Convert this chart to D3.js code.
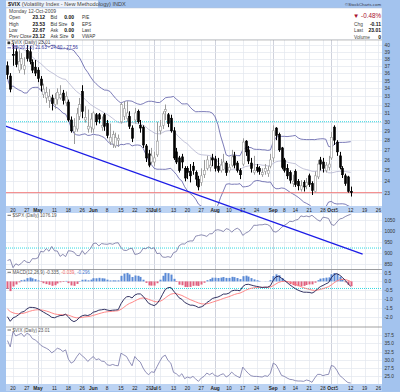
<!DOCTYPE html>
<html><head><meta charset="utf-8">
<script src="https://cdn.jsdelivr.net/npm/d3@7"></script>
<style>body{margin:0;background:#fff}svg{display:block}text{font-family:"Liberation Sans",Arial,sans-serif}</style>
</head><body><svg id="c" width="400" height="392"></svg>
<script>
// ---------- DATA ----------
const dates = [
"2009-04-16","2009-04-17","2009-04-20","2009-04-21","2009-04-22","2009-04-23","2009-04-24","2009-04-27","2009-04-28","2009-04-29","2009-04-30",
"2009-05-01","2009-05-04","2009-05-05","2009-05-06","2009-05-07","2009-05-08","2009-05-11","2009-05-12","2009-05-13","2009-05-14","2009-05-15","2009-05-18","2009-05-19","2009-05-20","2009-05-21","2009-05-22","2009-05-26","2009-05-27","2009-05-28","2009-05-29",
"2009-06-01","2009-06-02","2009-06-03","2009-06-04","2009-06-05","2009-06-08","2009-06-09","2009-06-10","2009-06-11","2009-06-12","2009-06-15","2009-06-16","2009-06-17","2009-06-18","2009-06-19","2009-06-22","2009-06-23","2009-06-24","2009-06-25","2009-06-26","2009-06-29","2009-06-30",
"2009-07-01","2009-07-02","2009-07-06","2009-07-07","2009-07-08","2009-07-09","2009-07-10","2009-07-13","2009-07-14","2009-07-15","2009-07-16","2009-07-17","2009-07-20","2009-07-21","2009-07-22","2009-07-23","2009-07-24","2009-07-27","2009-07-28","2009-07-29","2009-07-30","2009-07-31",
"2009-08-03","2009-08-04","2009-08-05","2009-08-06","2009-08-07","2009-08-10","2009-08-11","2009-08-12","2009-08-13","2009-08-14","2009-08-17","2009-08-18","2009-08-19","2009-08-20","2009-08-21","2009-08-24","2009-08-25","2009-08-26","2009-08-27","2009-08-28","2009-08-31",
"2009-09-01","2009-09-02","2009-09-03","2009-09-04","2009-09-08","2009-09-09","2009-09-10","2009-09-11","2009-09-14","2009-09-15","2009-09-16","2009-09-17","2009-09-18","2009-09-21","2009-09-22","2009-09-23","2009-09-24","2009-09-25","2009-09-28","2009-09-29","2009-09-30",
"2009-10-01","2009-10-02","2009-10-05","2009-10-06","2009-10-07","2009-10-08","2009-10-09","2009-10-12"];
const futureDates = ["2009-10-13","2009-10-14","2009-10-15","2009-10-16","2009-10-19","2009-10-20","2009-10-21","2009-10-22","2009-10-23","2009-10-26","2009-10-27"];

const open = [37.0,35.6,38.6,39.0,36.4,37.2,36.5,39.2,39.0,37.5,36.8,
36.4,35.2,33.2,32.8,32.5,32.8,32.0,32.6,32.8,33.4,32.2,32.3,30.2,28.9,29.2,30.6,33.6,30.2,29.2,29.4,
29.2,30.8,30.8,29.4,30.8,29.8,27.8,27.6,27.4,28.0,30.0,30.6,30.4,30.6,29.3,30.2,31.2,29.6,29.4,27.4,26.6,25.8,
25.8,26.5,29.0,29.6,31.2,30.8,30.4,29.0,26.8,26.2,26.3,25.2,25.2,24.9,25.4,24.8,24.2,23.9,24.6,25.2,25.3,26.2,
26.1,25.4,25.0,25.1,25.7,25.0,25.5,26.4,25.7,25.0,25.6,27.9,27.0,25.7,24.8,25.3,25.2,24.6,24.9,24.7,25.4,
26.2,29.3,28.6,27.2,26.0,25.2,24.8,23.8,24.9,24.0,23.3,23.9,23.6,24.5,23.8,23.1,24.4,26.0,25.8,25.0,25.3,
26.2,29.4,27.8,26.4,25.2,24.5,24.4,23.12];
const high = [37.6,36.0,40.2,39.6,39.2,38.8,38.2,40.0,39.8,37.9,37.8,
36.8,35.6,34.6,34.2,33.9,33.2,33.4,34.0,34.4,33.8,33.6,32.6,30.6,30.4,31.6,32.8,34.4,31.8,31.4,31.0,
31.2,31.0,31.0,30.6,31.0,30.2,29.8,29.0,28.8,28.6,32.2,32.4,32.4,31.2,29.6,31.6,31.4,30.2,29.6,27.6,27.0,27.2,
26.8,30.0,30.2,31.2,32.0,31.0,30.8,29.4,27.2,26.4,26.6,25.4,25.4,25.6,25.8,25.0,24.5,25.2,26.0,26.4,26.3,26.6,
26.4,26.2,26.1,26.6,25.9,25.6,27.0,26.8,25.9,25.2,28.2,28.0,27.4,26.2,26.4,25.6,25.4,25.2,25.6,25.4,26.6,
29.6,29.4,28.8,27.3,26.2,25.6,25.0,24.6,25.1,24.2,24.1,24.1,24.3,24.7,24.0,24.9,26.0,26.3,26.2,25.8,26.4,
28.9,29.6,28.0,26.8,25.4,24.7,24.5,23.53];
const low = [35.2,33.5,37.0,36.8,36.0,36.5,35.8,37.6,37.2,36.0,35.6,
34.8,33.6,32.8,32.2,31.6,31.3,31.5,32.0,32.6,32.0,31.8,30.0,28.8,27.6,28.9,30.2,30.4,29.9,28.8,28.8,
28.8,29.6,29.8,29.0,29.0,28.2,27.5,27.2,27.2,27.3,29.8,30.2,30.0,29.2,27.8,29.8,29.8,28.8,27.2,25.8,25.3,25.6,
25.4,26.3,28.6,29.2,30.2,29.4,28.8,26.0,25.6,24.8,25.2,24.0,24.2,23.9,24.6,23.6,23.2,23.6,24.3,25.0,24.9,25.4,
24.9,24.8,24.8,25.0,24.5,24.8,25.3,25.2,24.8,24.2,25.4,26.4,25.6,24.8,24.6,24.8,24.6,24.4,24.6,24.4,25.2,
25.8,28.0,26.8,25.1,24.8,24.2,23.8,23.5,23.5,23.2,23.1,23.1,23.3,23.5,22.8,23.0,24.2,25.0,24.8,24.8,25.0,
26.0,27.5,26.4,25.1,24.3,23.6,23.0,22.67];
const close = [35.8,33.9,38.5,37.2,37.6,38.0,37.0,38.0,37.6,36.4,36.0,
35.3,34.4,33.9,33.5,33.0,32.1,32.7,33.5,33.2,32.5,33.0,30.2,29.0,29.5,30.9,32.0,31.2,30.5,29.5,30.3,
31.0,30.0,30.3,29.6,29.5,28.5,28.3,28.6,28.3,28.2,32.0,31.5,31.0,29.5,28.2,31.0,30.0,29.3,27.5,26.2,25.5,26.4,
26.2,27.9,29.5,30.9,31.4,29.8,29.0,26.2,25.8,25.0,25.8,24.3,24.8,24.5,25.0,24.2,23.5,24.5,25.0,26.0,25.5,26.0,
25.2,25.0,25.5,25.8,24.8,25.3,26.3,25.5,25.0,24.6,27.8,26.8,25.9,25.2,25.0,25.0,24.9,24.8,25.2,25.0,26.0,
29.0,28.5,27.0,25.3,25.0,24.5,24.1,24.0,23.7,23.6,23.6,23.5,23.9,23.7,23.2,24.5,25.6,25.6,25.2,25.5,25.6,
28.3,28.0,26.8,25.3,24.6,23.8,23.12,23.01];
// closes before the visible window (indicator warm-up)
const priorClose = [45.5,42.9,43.0,41.2,48.7,47.1,46.0,49.3,47.1,44.7,44.7,45.0,46.4,52.6,50.9,46.4,50.2,49.3,49.7,45.0,44.4,44.0,42.4,43.9,41.2,40.4,43.1,45.9,40.4,41.0,41.0,40.6,43.0,45.5,44.1,42.3,42.0,39.7,40.9,40.9,39.0,36.5,37.3,38.9,37.0];
const spxClose = [865.3,869.6,832.4,850.1,843.6,851.9,866.2,857.5,855.2,873.6,872.8,
877.5,907.2,903.8,919.5,907.4,929.2,909.2,908.4,883.9,893.1,882.9,909.7,908.1,903.5,888.3,887.0,910.3,893.1,906.8,919.1,
942.9,944.7,931.8,942.5,940.1,939.1,942.4,939.2,944.9,946.2,923.7,912.0,910.7,918.4,921.2,893.0,895.1,900.9,920.3,918.9,927.2,919.3,
923.3,896.4,898.7,881.0,879.6,882.7,879.1,901.1,905.8,932.7,940.7,940.4,951.1,954.6,954.1,976.3,979.3,982.2,979.6,975.2,986.8,987.5,
1002.6,1005.7,1002.7,997.1,1010.5,1007.1,994.4,1005.8,1012.7,1004.1,979.7,989.7,996.5,1007.4,1026.1,1025.6,1028.0,1028.1,1031.0,1028.9,1020.6,
998.0,994.8,1003.2,1016.4,1025.4,1033.4,1044.1,1042.7,1049.3,1052.6,1068.8,1065.5,1068.3,1064.7,1071.7,1060.9,1050.8,1044.4,1063.0,1060.6,1057.1,
1029.9,1025.2,1040.5,1054.7,1057.6,1065.5,1071.5,1076.2];

const priceTicks = [23,24,25,26,27,28,29,30,31,32,33,34,35,36,37,38,39,40];
const spxTicks = [850,900,950,1000,1050];
const macdTicks = [0.5,0,-0.5,-1,-1.5,-2];
const vixTicks = [25,27.5,30,32.5,35,37.5];
const priceLevelCyan = [30];
const priceLevelRed = [23.0];
const spxLevelCyan = [922];
const macdLevelCyan = [-0.4];
const trendLine = [{day:-2.7, vix:29.74},{day:128.3, vix:18.27}];

const headerRows = [
  ["Open","23.12","Bid","0.00","P/E"],
  ["High","23.53","Bid Size","0","EPS"],
  ["Low","22.67","Ask","0.00","Last"],
  ["Prev Close","23.12","Ask Size","0","VWAP"]];
const quoteRows = [["Chg","-0.11"],["Last","23.01"],["Volume","0"]];
const monthNames = ["Jan","Feb","Mar","Apr","May","Jun","Jul","Aug","Sep","Oct","Nov","Dec"];

// ---------- LAYOUT ----------
const svg = d3.select("#c");
const W=400,H=392,L=6,R=382;
const P = {price:[40,206], spx:[213,269.5], macd:[269.5,327], vixl:[327,384]};
const frame = "#a3c3ee", grid="#e3e6ee", gridM="#c9cdd8", axisTxt="#333";

const x = d3.scaleLinear().domain([-0.54,135.3]).range([L,R]);
const yP = d3.scaleLog().domain([21.88,40.75]).range([P.price[1],P.price[0]]);
const yS = d3.scaleLinear().domain([824,1082]).range([P.spx[1],P.spx[0]]);
const yM = d3.scaleLinear().domain([-2.583,0.674]).range([P.macd[1],P.macd[0]]);
const yV = d3.scaleLinear().domain([22.7,39.9]).range([P.vixl[1],P.vixl[0]]);

// indicators
const allClose = priorClose.concat(close);
const off = priorClose.length;
function ema(arr,n){const k=2/(n+1);const o=[];arr.forEach((v,i)=>o.push(i===0?v:v*k+o[i-1]*(1-k)));return o;}
const e12=ema(allClose,12), e26=ema(allClose,26);
const macdAll=e12.map((v,i)=>v-e26[i]);
const sigAll=ema(macdAll,9);
const macd=macdAll.slice(off), signal=sigAll.slice(off);
const hist=macd.map((v,i)=>v-signal[i]);
const bb=close.map((c,i)=>{const j=i+off;const w=allClose.slice(j-19,j+1);const m=d3.mean(w);const sd=Math.sqrt(d3.mean(w,v=>(v-m)*(v-m)));return {m,up:m+2*sd,lo:m-2*sd};});

// background frame
svg.append("rect").attr("width",W).attr("height",H).attr("fill",frame);
// title
svg.append("rect").attr("x",L).attr("y",0.5).attr("width",92).attr("height",7).attr("fill","#eef2fa");
const tt=svg.append("text").attr("x",8).attr("y",6.3).attr("font-size",5.6).attr("fill","#222");
tt.append("tspan").attr("font-weight","bold").text("$VIX");
tt.append("tspan").attr("fill","#444").text(" (Volatility Index - New Methodology) INDX");
svg.append("text").attr("x",R-1).attr("y",5.8).attr("text-anchor","end").attr("font-size",4.3).attr("fill","#334").text("\u00A9StockCharts.com");

// header box
svg.append("rect").attr("x",L).attr("y",8).attr("width",R-L).attr("height",32).attr("fill","#fff").attr("stroke","#b8c4d8").attr("stroke-width",0.5);
svg.append("text").attr("x",9).attr("y",13).attr("font-size",5).attr("fill","#444").text("Monday 12-Oct-2009");
headerRows.forEach((r,i)=>{
  const yy=19.2+i*6.4;
  const g=svg.append("g").attr("font-size",4.6).attr("fill","#333");
  g.append("text").attr("x",9).attr("y",yy).text(r[0]);
  g.append("text").attr("x",45).attr("y",yy).attr("text-anchor","end").attr("font-weight","bold").attr("font-size",5).attr("fill","#111").text(r[1]);
  g.append("text").attr("x",50.5).attr("y",yy).text(r[2]);
  g.append("text").attr("x",74).attr("y",yy).attr("text-anchor","end").attr("font-weight","bold").attr("font-size",5).attr("fill","#111").text(r[3]);
  g.append("text").attr("x",82).attr("y",yy).text(r[4]);
});
svg.append("text").attr("x",353).attr("y",18.2).attr("font-size",6.3).attr("fill","#a8102e").text("\u25BC");
svg.append("text").attr("x",381).attr("y",18.2).attr("text-anchor","end").attr("font-size",6.3).attr("fill","#a8102e").text("-0.48%");
quoteRows.forEach((r,i)=>{
  const yy=25.8+i*6.5;
  svg.append("text").attr("x",354).attr("y",yy).attr("font-size",4.8).attr("fill","#444").text(r[0]);
  svg.append("text").attr("x",381).attr("y",yy).attr("text-anchor","end").attr("font-size",5).attr("font-weight","bold").attr("fill","#111").text(r[1]);
});

// panels
Object.values(P).forEach(p=>{
  svg.append("rect").attr("x",L).attr("y",p[0]).attr("width",R-L).attr("height",p[1]-p[0]).attr("fill","#fff");
});
// date strips
[[206,213],[384,391]].forEach(s=>svg.append("rect").attr("x",L).attr("y",s[0]).attr("width",R-L).attr("height",s[1]-s[0]).attr("fill","#bcd3f3"));

// time ticks
const allDates = dates.concat(futureDates).map(d=>new Date(d+"T12:00:00"));
const monthIdx=[];
allDates.forEach((d,i)=>{ if(i>0 && d.getMonth()!==allDates[i-1].getMonth()) monthIdx.push(i); });
const ticks=[];
allDates.forEach((d,i)=>{
  if(i===0) return;
  const p=allDates[i-1];
  const monthStart = monthIdx.includes(i);
  const weekStart = d.getDay()<p.getDay() || (d-p)>3*864e5;
  if(monthStart){ticks.push({i,label:monthNames[d.getMonth()],month:true});}
  else if(weekStart){
    const near = monthIdx.some(m=>Math.abs(m-i)<2);
    ticks.push({i,label:near?"":String(d.getDate()),month:false});
  }
});

// vertical grid
Object.values(P).forEach(p=>{
  svg.append("g").selectAll("line").data(ticks).join("line")
    .attr("x1",d=>Math.round(x(d.i))+0.5).attr("x2",d=>Math.round(x(d.i))+0.5)
    .attr("y1",p[0]).attr("y2",p[1])
    .attr("stroke",d=>d.month?gridM:grid).attr("stroke-width",d=>d.month?0.9:0.7);
});
// horizontal grid
function hgrid(scale,vals){
  svg.append("g").selectAll("line").data(vals).join("line")
    .attr("x1",L).attr("x2",R).attr("y1",d=>Math.round(scale(d))+0.5).attr("y2",d=>Math.round(scale(d))+0.5)
    .attr("stroke",grid).attr("stroke-width",0.7);
}
hgrid(yP,priceTicks); hgrid(yS,spxTicks); hgrid(yM,macdTicks); hgrid(yV,vixTicks);

// date labels
[211.6,389.6].forEach(yy=>{
  svg.append("g").selectAll("text").data(ticks.filter(t=>t.label)).join("text")
   .attr("x",d=>x(d.i)).attr("y",yy).attr("text-anchor","middle")
   .attr("font-size",4.8).attr("font-weight",d=>d.month?"bold":"normal").attr("fill","#222").text(d=>d.label);
});

// right axes
function raxis(scale,vals,fmt){
  const g=svg.append("g").attr("transform",`translate(${R},0)`)
    .call(d3.axisRight(scale).tickValues(vals).tickSize(0).tickPadding(2.5).tickFormat(fmt));
  g.select(".domain").remove();
  g.selectAll("text").attr("font-size",4.8).attr("fill",axisTxt).attr("font-family","Liberation Sans, Arial, sans-serif");
}
raxis(yP,priceTicks,d=>String(d));
raxis(yS,spxTicks,d=>String(d));
raxis(yM,macdTicks,d=>d.toFixed(1));
raxis(yV,vixTicks,d=>d.toFixed(1));

// clip paths
const defs=svg.append("defs");
Object.entries(P).forEach(([k,p])=>defs.append("clipPath").attr("id","clip-"+k).append("rect").attr("x",L).attr("y",p[0]).attr("width",R-L).attr("height",p[1]-p[0]));

// ---------- PRICE PANEL ----------
const gp=svg.append("g").attr("clip-path","url(#clip-price)");
gp.append("path").datum(bb).attr("fill","none").attr("stroke","#a9a9c8").attr("stroke-width",0.7)
  .attr("d",d3.line().x((d,i)=>x(i)).y(d=>yP(d.m)));
["up","lo"].forEach(k=>gp.append("path").datum(bb).attr("fill","none").attr("stroke","#5a5aa6").attr("stroke-width",0.8)
  .attr("d",d3.line().x((d,i)=>x(i)).y(d=>yP(d[k]))));
gp.selectAll(".lvc").data(priceLevelCyan).join("line").attr("x1",L).attr("x2",R).attr("y1",d=>yP(d)).attr("y2",d=>yP(d))
  .attr("stroke","#2fd8e0").attr("stroke-width",1).attr("stroke-dasharray","1,1");
gp.selectAll(".lvr").data(priceLevelRed).join("line").attr("x1",L).attr("x2",R).attr("y1",d=>yP(d)).attr("y2",d=>yP(d))
  .attr("stroke","#f27a7a").attr("stroke-width",1);
// candles
const cd=close.map((c,i)=>({i,o:open[i],h:high[i],l:low[i],c}));
gp.append("g").selectAll("line").data(cd).join("line")
  .attr("x1",d=>Math.round(x(d.i))+0.5).attr("x2",d=>Math.round(x(d.i))+0.5)
  .attr("y1",d=>yP(d.h)).attr("y2",d=>yP(d.l))
  .attr("stroke",d=>d.c<d.o?"#000":"#9a9a9a").attr("stroke-width",1);
gp.append("g").selectAll("rect").data(cd).join("rect")
  .attr("x",d=>Math.round(x(d.i))-0.5).attr("width",2)
  .attr("y",d=>yP(Math.max(d.o,d.c))).attr("height",d=>Math.max(0.8,yP(Math.min(d.o,d.c))-yP(Math.max(d.o,d.c))))
  .attr("fill",d=>d.c<d.o?"#000":"#fff").attr("stroke",d=>d.c<d.o?"#000":"#9a9a9a").attr("stroke-width",0.6);
// legends
svg.append("rect").attr("x",7.5).attr("y",41.6).attr("width",2.6).attr("height",2.6).attr("fill","#333");
svg.append("text").attr("x",11.5).attr("y",44.4).attr("font-size",4.8).attr("fill","#444").text("$VIX (Daily) 23.01");
svg.append("line").attr("x1",7.5).attr("x2",11).attr("y1",47.8).attr("y2",47.8).attr("stroke","#33339a").attr("stroke-width",0.8);
svg.append("text").attr("x",12).attr("y",49.3).attr("font-size",4.6).attr("fill","#33339a").text("BB(20,2.0) 21.63 - 24.60 - 27.56");

// ---------- SPX PANEL ----------
const gs=svg.append("g").attr("clip-path","url(#clip-spx)");
gs.selectAll("line").data(spxLevelCyan).join("line").attr("x1",L).attr("x2",R).attr("y1",d=>yS(d)).attr("y2",d=>yS(d))
  .attr("stroke","#2fd8e0").attr("stroke-width",1).attr("stroke-dasharray","1,1");
gs.append("path").datum(spxClose).attr("fill","none").attr("stroke","#6e6e9e").attr("stroke-width",0.8)
  .attr("d",d3.line().x((d,i)=>x(i)).y(d=>yS(d)));
svg.append("line").attr("x1",7.5).attr("x2",11).attr("y1",215.3).attr("y2",215.3).attr("stroke","#444").attr("stroke-width",0.8);
svg.append("text").attr("x",12.5).attr("y",216.8).attr("font-size",4.6).attr("fill","#555").text("$SPX (Daily) 1076.19");

// ---------- MACD PANEL ----------
const gm=svg.append("g").attr("clip-path","url(#clip-macd)");
gm.selectAll("line.l").data(macdLevelCyan).join("line").attr("x1",L).attr("x2",R).attr("y1",d=>yM(d)).attr("y2",d=>yM(d))
  .attr("stroke","#2fd8e0").attr("stroke-width",1).attr("stroke-dasharray","1,1");
gm.append("g").selectAll("rect").data(hist).join("rect")
  .attr("x",(d,i)=>Math.round(x(i))-0.5).attr("width",2)
  .attr("y",d=>Math.min(yM(0),yM(d))).attr("height",d=>Math.abs(yM(d)-yM(0)))
  .attr("fill",d=>d>=0?"#5a8ad6":"#e0607e");
gm.append("path").datum(signal).attr("fill","none").attr("stroke","#ff7c7c").attr("stroke-width",0.9)
  .attr("d",d3.line().x((d,i)=>x(i)).y(d=>yM(d)));
gm.append("path").datum(macd).attr("fill","none").attr("stroke","#1c1c50").attr("stroke-width",0.9)
  .attr("d",d3.line().x((d,i)=>x(i)).y(d=>yM(d)));
svg.append("line").attr("x1",7.5).attr("x2",11).attr("y1",272.3).attr("y2",272.3).attr("stroke","#444").attr("stroke-width",0.8);
const mt=svg.append("text").attr("x",12.5).attr("y",273.8).attr("font-size",4.6).attr("fill","#555");
mt.append("tspan").text("MACD(12,26,9) -0.335, ");
mt.append("tspan").attr("fill","#f26a6a").text("-0.039");
mt.append("tspan").text(", ");
mt.append("tspan").attr("fill","#4a7ad0").text("-0.296");

// ---------- VIX LINE PANEL ----------
const gv=svg.append("g").attr("clip-path","url(#clip-vixl)");
gv.append("path").datum(close).attr("fill","none").attr("stroke","#7373a6").attr("stroke-width",0.8)
  .attr("d",d3.line().x((d,i)=>x(i)).y(d=>yV(d)));
svg.append("line").attr("x1",7.5).attr("x2",11).attr("y1",330).attr("y2",330).attr("stroke","#444").attr("stroke-width",0.8);
svg.append("text").attr("x",12.5).attr("y",331.5).attr("font-size",4.6).attr("fill","#555").text("$VIX (Daily) 23.01");

// panel separators
[P.spx[1],P.macd[1]].forEach(yy=>svg.append("line").attr("x1",L).attr("x2",R).attr("y1",yy).attr("y2",yy).attr("stroke","#888").attr("stroke-width",0.8));
svg.append("line").attr("x1",L).attr("x2",R).attr("y1",40).attr("y2",40).attr("stroke","#999").attr("stroke-width",0.6);

// trend line (annotation drawn on the price scale, spans panels)
svg.append("line").attr("x1",x(trendLine[0].day)).attr("y1",yP(trendLine[0].vix))
  .attr("x2",x(trendLine[1].day)).attr("y2",yP(trendLine[1].vix))
  .attr("stroke","#1c1ce6").attr("stroke-width",1.3);
svg.append("rect").attr("x",0).attr("y",0).attr("width",L).attr("height",H).attr("fill",frame);
</script></body></html>
